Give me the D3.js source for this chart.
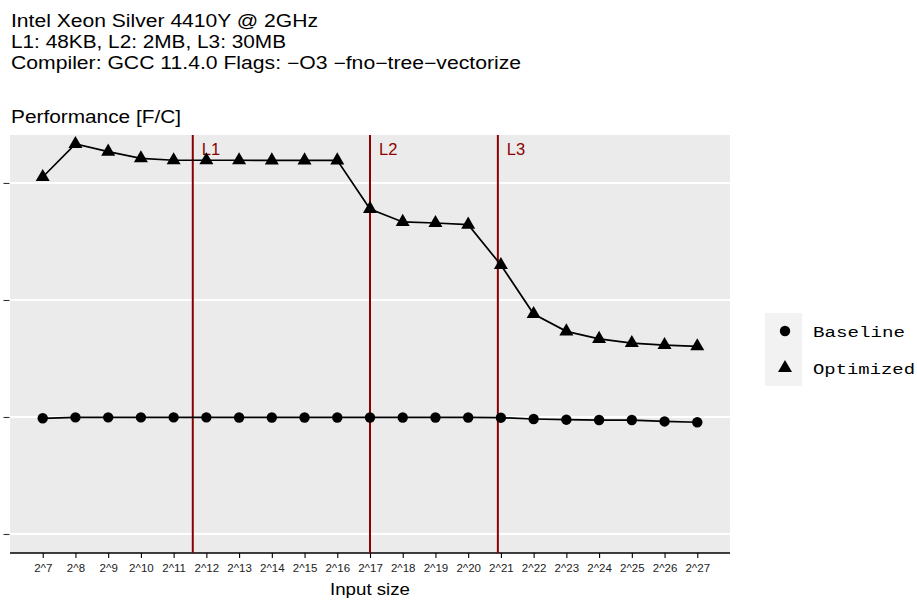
<!DOCTYPE html>
<html>
<head>
<meta charset="utf-8">
<script src="https://cdn.jsdelivr.net/npm/d3@7"></script>
<style>
  html, body { margin: 0; padding: 0; background: #ffffff; }
  svg { display: block; }
</style>
</head>
<body>
<svg id="chart" width="917" height="600"></svg>
<script>
// ---- data ----
const exponents = [7, 8, 9, 10, 11, 12, 13, 14, 15, 16, 17, 18, 19, 20, 21, 22, 23, 24, 25, 26, 27];
const tickLabels = ["2^7","2^8","2^9","2^10","2^11","2^12","2^13","2^14","2^15","2^16","2^17","2^18","2^19","2^20","2^21","2^22","2^23","2^24","2^25","2^26","2^27"];
const baseline = [0.989, 0.997, 0.997, 0.997, 0.997, 0.997, 0.996, 0.996, 0.996, 0.996, 0.996, 0.996, 0.996, 0.996, 0.994, 0.983, 0.977, 0.974, 0.974, 0.962, 0.955];
const optimized = [3.051, 3.333, 3.268, 3.211, 3.194, 3.194, 3.194, 3.193, 3.193, 3.193, 2.778, 2.667, 2.658, 2.644, 2.299, 1.880, 1.732, 1.667, 1.632, 1.615, 1.604];
const cacheNames = ["L1", "L2", "L3"];
const cacheLog2 = [11.585, 17.0, 20.907];
const yTicks = [0, 1, 2, 3];
const seriesNames = ["Baseline", "Optimized"];
const titleLines = ["Intel Xeon Silver 4410Y @ 2GHz", "L1: 48KB, L2: 2MB, L3: 30MB", "Compiler: GCC 11.4.0 Flags: \u2212O3 \u2212fno\u2212tree\u2212vectorize"];
const subtitle = "Performance [F/C]";
const xTitle = "Input size";

// ---- layout ----
const svg = d3.select("#chart");
const P = { left: 10, right: 730, top: 135, bottom: 553 };
const sans = "'Liberation Sans', Arial, Helvetica, sans-serif";
const mono = "'Liberation Mono', 'Courier New', Courier, monospace";

const x = d3.scaleLinear().domain([6, 28]).range([P.left, P.right]);
const y = d3.scaleLinear().domain([-0.1624, 3.41]).range([P.bottom, P.top]);

// panel background
svg.append("rect")
  .attr("x", P.left).attr("y", P.top)
  .attr("width", P.right - P.left).attr("height", P.bottom - P.top)
  .attr("fill", "#EBEBEB");

// horizontal gridlines
svg.append("g").selectAll("line").data(yTicks).join("line")
  .attr("x1", P.left).attr("x2", P.right)
  .attr("y1", d => y(d)).attr("y2", d => y(d))
  .attr("stroke", "#ffffff").attr("stroke-width", 2);

// y axis (ticks only, no labels)
const yAxis = d3.axisLeft(y).tickValues(yTicks).tickFormat(() => "").tickSize(6).tickSizeOuter(0);
const gy = svg.append("g").attr("transform", `translate(${P.left - 0.5},0)`).call(yAxis);
gy.select(".domain").remove();
gy.selectAll(".tick line").attr("stroke", "#333333").attr("stroke-width", 1.1);

// x axis
const xAxis = d3.axisBottom(x).tickValues(exponents).tickFormat((d, i) => tickLabels[i]).tickSize(5).tickSizeOuter(0).tickPadding(6);
const gx = svg.append("g").attr("transform", `translate(0,${P.bottom})`).call(xAxis);
gx.select(".domain").attr("d", `M${P.left},0H${P.right}`).attr("stroke", "#000").attr("stroke-width", 1.3);
gx.selectAll(".tick line").attr("stroke", "#000").attr("stroke-width", 1.1);
gx.selectAll(".tick text").attr("font-family", sans).attr("font-size", 11.5).attr("fill", "#222");

// cache lines
svg.append("g").selectAll("line").data(cacheLog2).join("line")
  .attr("x1", d => x(d)).attr("x2", d => x(d))
  .attr("y1", P.top).attr("y2", P.bottom)
  .attr("stroke", "#8B0000").attr("stroke-width", 2);
svg.append("g").selectAll("text").data(cacheLog2).join("text")
  .attr("x", d => x(d) + 9).attr("y", 155)
  .attr("font-family", sans).attr("font-size", 16.5).attr("fill", "#8B0000")
  .text((d, i) => cacheNames[i]);

// series
const line = d3.line().x((d, i) => x(exponents[i])).y(d => y(d));
[baseline, optimized].forEach(s => {
  svg.append("path").datum(s).attr("d", line)
    .attr("fill", "none").attr("stroke", "#000").attr("stroke-width", 1.7);
});
const circle = d3.symbol().type(d3.symbolCircle).size(Math.PI * 5.2 * 5.2);
const tri = d3.symbol().type(d3.symbolTriangle).size(85);
svg.append("g").selectAll("path").data(baseline).join("path")
  .attr("d", circle).attr("transform", (d, i) => `translate(${x(exponents[i])},${y(d)})`).attr("fill", "#000");
svg.append("g").selectAll("path").data(optimized).join("path")
  .attr("d", tri).attr("transform", (d, i) => `translate(${x(exponents[i])},${y(d)})`).attr("fill", "#000");

// titles
const titleWidths = [307, 275, 510];
svg.append("g").selectAll("text").data(titleLines).join("text")
  .attr("x", 11).attr("y", (d, i) => 27 + i * 21)
  .attr("font-family", sans).attr("font-size", 17.5).attr("fill", "#000")
  .attr("textLength", (d, i) => titleWidths[i]).attr("lengthAdjust", "spacingAndGlyphs")
  .text(d => d);
svg.append("text").attr("x", 11).attr("y", 123)
  .attr("font-family", sans).attr("font-size", 17.5).attr("fill", "#000")
  .attr("textLength", 170).attr("lengthAdjust", "spacingAndGlyphs")
  .text(subtitle);

// x title
svg.append("text").attr("x", (P.left + P.right) / 2).attr("y", 595)
  .attr("text-anchor", "middle")
  .attr("font-family", sans).attr("font-size", 16.5).attr("fill", "#000")
  .attr("textLength", 80).attr("lengthAdjust", "spacingAndGlyphs")
  .text(xTitle);

// legend
const lg = svg.append("g");
lg.append("rect").attr("x", 765).attr("y", 313).attr("width", 37).attr("height", 73).attr("fill", "#F2F2F2");
lg.append("path").attr("d", circle).attr("transform", "translate(785,331)").attr("fill", "#000");
lg.append("path").attr("d", tri).attr("transform", "translate(785,368)").attr("fill", "#000");
const legendWidths = [92, 102];
lg.selectAll("text").data(seriesNames).join("text")
  .attr("x", 813).attr("y", (d, i) => 336.5 + i * 37)
  .attr("font-family", mono).attr("font-size", 15.5).attr("fill", "#000")
  .attr("textLength", (d, i) => legendWidths[i]).attr("lengthAdjust", "spacingAndGlyphs")
  .text(d => d);
</script>
</body>
</html>
